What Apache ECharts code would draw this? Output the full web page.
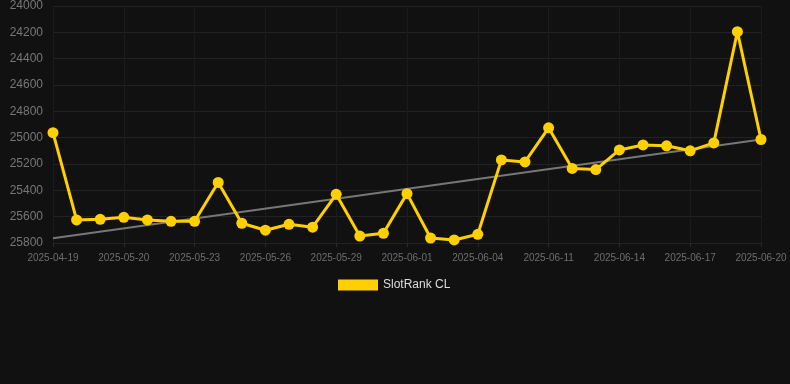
<!DOCTYPE html>
<html>
<head>
<meta charset="utf-8">
<script src="https://cdn.jsdelivr.net/npm/echarts@6/dist/echarts.min.js"></script>
<style>
  html, body { margin: 0; padding: 0; background: #111111; }
  #chart { width: 790px; height: 384px; }
</style>
</head>
<body>
<div id="chart"></div>
<script>
// dates on the x axis
var dates = [
    '2025-04-19', '2025-05-18', '2025-05-19', '2025-05-20', '2025-05-21', '2025-05-22',
    '2025-05-23', '2025-05-24', '2025-05-25', '2025-05-26', '2025-05-27', '2025-05-28',
    '2025-05-29', '2025-05-30', '2025-05-31', '2025-06-01', '2025-06-02', '2025-06-03',
    '2025-06-04', '2025-06-05', '2025-06-10', '2025-06-11', '2025-06-12', '2025-06-13',
    '2025-06-14', '2025-06-15', '2025-06-16', '2025-06-17', '2025-06-18', '2025-06-19',
    '2025-06-20'
];

// rank values (lower is better, axis is inverted)
var slotRank = [
    24962, 25625, 25620, 25605, 25625, 25635,
    25635, 25340, 25650, 25703, 25658, 25680,
    25430, 25747, 25726, 25425, 25762, 25777,
    25734, 25169, 25184, 24925, 25234, 25242,
    25093, 25055, 25062, 25100, 25040, 24195,
    25014
];

// trend line end points
var trendStart = 25764;
var trendEnd = 25014;

var trend = dates.map(function (d, i) {
    if (i === 0) return trendStart;
    if (i === dates.length - 1) return trendEnd;
    return null;
});

var chart = echarts.init(document.getElementById('chart'));
chart.setOption({
    backgroundColor: '#111111',
    animation: false,
    grid: {
        left: 53,
        right: 29,
        top: 6,
        bottom: 141
    },
    legend: {
        bottom: 88,
        left: 333,
        itemWidth: 40,
        itemHeight: 11,
        itemGap: 6,
        data: [{ name: 'SlotRank CL', icon: 'rect' }],
        textStyle: {
            color: '#dddddd',
            fontSize: 12,
            fontFamily: 'Liberation Sans, Arial, sans-serif'
        }
    },
    xAxis: {
        type: 'category',
        boundaryGap: false,
        data: dates,
        axisLine: { show: false },
        axisTick: {
            show: true,
            interval: 2,
            length: 4,
            lineStyle: { color: '#2a2a2a' }
        },
        axisLabel: {
            interval: 2,
            color: '#6e6e6e',
            fontSize: 10,
            margin: 10,
            fontFamily: 'Liberation Sans, Arial, sans-serif'
        },
        splitLine: {
            show: true,
            interval: 2,
            lineStyle: { color: '#1b1b1b', width: 1 }
        }
    },
    yAxis: {
        type: 'value',
        inverse: true,
        min: 24000,
        max: 25800,
        interval: 200,
        axisLine: { show: false },
        axisTick: { show: false },
        axisLabel: {
            color: '#777777',
            fontSize: 12,
            margin: 10,
            formatter: function (v) { return String(v); },
            fontFamily: 'Liberation Sans, Arial, sans-serif'
        },
        splitLine: {
            lineStyle: { color: '#222222', width: 1 }
        }
    },
    series: [
        {
            name: 'Trend',
            type: 'line',
            data: trend,
            connectNulls: true,
            symbol: 'none',
            lineStyle: { color: '#777777', width: 2 },
            z: 1
        },
        {
            name: 'SlotRank CL',
            type: 'line',
            data: slotRank,
            symbol: 'circle',
            symbolSize: 11,
            itemStyle: { color: '#ffd000' },
            lineStyle: { color: '#ffd000', width: 3 },
            z: 2
        }
    ]
});
</script>
</body>
</html>
